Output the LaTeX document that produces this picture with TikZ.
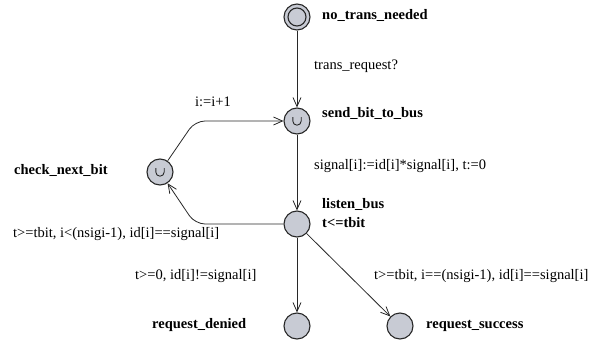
\documentclass[tikz,border=0pt]{standalone}
\usepackage{fontspec}
\setmainfont{Liberation Serif}
\usetikzlibrary{arrows.meta}
\definecolor{stfill}{RGB}{200,203,212}
\definecolor{stline}{RGB}{40,40,40}
\begin{document}
\begin{tikzpicture}[x=1pt,y=-1pt,
  state/.style={circle,draw=stline,fill=stfill,line width=1.1pt,minimum size=26pt,inner sep=0pt},
  inner/.style={circle,draw=stline,fill=stfill,line width=1.1pt,minimum size=18pt,inner sep=0pt},
  edge/.style={draw=stline,line width=0.8pt,-{Straight Barb[length=9pt,width=8pt,line width=0.8pt]}},
  lbl/.style={font=\fontsize{14.5}{17}\selectfont,inner sep=0pt},
  nm/.style={inner sep=0pt,font=\fontsize{14.5}{17}\selectfont\bfseries},
  upic/.pic={\draw[line width=0.9pt,stline] (-4.2,-4) -- (-4.2,0) arc[start angle=180,end angle=0,radius=4.2] -- (4.2,-4);}
]
\useasboundingbox (0,0) rectangle (600,348);
% states
\node[state] (nt) at (297,17) {};
\node[inner] (nti) at (297,17) {};
\node[state] (sb) at (297,121) {};
\node[state] (cn) at (160,172) {};
\node[state] (lb) at (297,224) {};
\node[state] (rd) at (297,326) {};
\node[state] (rs) at (400,326) {};
\pic at (sb) {upic};
\pic at (cn) {upic};
% corners
\coordinate (c1) at (195,121);
\coordinate (c2) at (195,224);
% edges
\draw[edge] (nt) -- (sb);
\draw[edge] (sb) -- (lb);
\draw[edge] (lb) -- (rd);
\draw[edge] (lb) -- (rs);
\draw[edge,rounded corners=10pt] (cn) -- (c1) -- (sb);
\draw[edge,rounded corners=10pt] (lb) -- (c2) -- (cn);
% labels
\node[nm,anchor=mid west] (l1) at (322,17) {no\_trans\_needed};
\node[lbl,anchor=mid west] (l2) at (314,67) {trans\_request?};
\node[lbl,anchor=mid] (l3) at (213,104) {i:=i+1};
\node[nm,anchor=mid west] (l4) at (322,115) {send\_bit\_to\_bus};
\node[lbl,anchor=mid west] (l5) at (314,167) {signal[i]:=id[i]*signal[i], t:=0};
\node[nm,anchor=mid west] (l6) at (14,172) {check\_next\_bit};
\node[nm,anchor=mid west] (l7) at (322,206) {listen\_bus};
\node[nm,anchor=mid west] (l8) at (322,225) {t<=tbit};
\node[lbl,anchor=mid west] (l9) at (13,235) {t>=tbit, i<(nsigi-1), id[i]==signal[i]};
\node[lbl,anchor=mid west] (l10) at (135,277) {t>=0, id[i]!=signal[i]};
\node[lbl,anchor=mid west] (l11) at (374,277) {t>=tbit, i==(nsigi-1), id[i]==signal[i]};
\node[nm,anchor=mid west] (l12) at (152,326) {request\_denied};
\node[nm,anchor=mid west] (l13) at (426,326) {request\_success};
\end{tikzpicture}
\end{document}
